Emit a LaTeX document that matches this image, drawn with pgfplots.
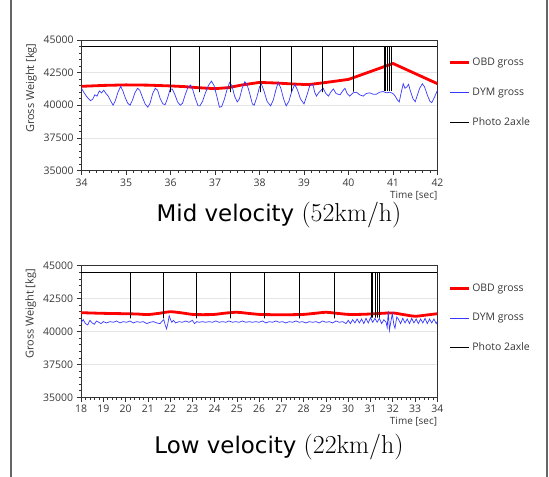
\documentclass[border=0pt]{standalone}
\usepackage{fontspec}
\setsansfont{Open Sans}
\newfontfamily\djv{DejaVu Sans}
\usepackage{pgfplots}
\pgfplotsset{compat=1.18}
\definecolor{obd}{RGB}{255,0,0}
\definecolor{dym}{RGB}{55,55,255}
\definecolor{txt}{RGB}{55,55,55}
\pgfplotsset{
  wim/.style={
    scale only axis,
    axis line style={draw=black!80, line width=0.8bp},
    ymin=35000, ymax=45000,
    ytick={35000,37500,40000,42500,45000},
    yticklabels={35000,37500,40000,42500,45000},
    scaled y ticks=false, scaled x ticks=false,
    minor y tick num=4,
    tick align=outside,
    xtick pos=left, ytick pos=left,
    major tick length=4.5bp, minor tick length=2.5bp,
    tick style={black!80, line width=0.6bp},
    ymajorgrids, major grid style={draw=black!10, line width=0.6bp},
    ticklabel style={font=\sffamily\fontsize{10.5}{12}\selectfont, text=txt},
    ylabel={Gross Weight [kg]},
    ylabel style={font=\sffamily\fontsize{11}{12}\selectfont, text=txt, at={(ticklabel cs:1)}, anchor=south east},
    xlabel={Time [sec]},
    xlabel style={font=\sffamily\fontsize{10}{12}\selectfont, text=txt, at={(rel axis cs:1,0)}, anchor=north east, inner sep=0pt, yshift=-20bp},
    legend style={draw=none, fill=none, at={(1,1)}, anchor=north west, xshift=8bp, yshift=-14bp,
      font=\sffamily\fontsize{10.5}{12}\selectfont, text=txt, row sep=16.5bp},
    legend cell align=left,
    legend image code/.code={\draw[##1] (0bp,0bp) -- (19bp,0bp);},
  }
}
\begin{document}
\begin{tikzpicture}
\useasboundingbox (0,0) rectangle (549bp,477bp);
\draw[black!60, line width=1.3bp] (11bp,0) -- (11bp,477bp);
\draw[black!60, line width=1.3bp] (547bp,0) -- (547bp,477bp);
% ---------- top chart ----------
\begin{axis}[wim, at={(81.5bp,306.5bp)}, anchor=south west, width=356bp, height=130.5bp,
  xmin=34, xmax=42, xtick={34,...,42}, xticklabels={34,35,36,37,38,39,40,41,42}, minor x tick num=5]
\addplot[obd, line width=2.8bp] coordinates {
(34,41450)(34.5,41520)(35,41560)(35.5,41540)(36,41480)(36.3,41430)(36.6,41350)(37,41270)(37.3,41350)(37.6,41550)(38,41750)(38.4,41700)(38.8,41620)(39.1,41580)(39.5,41750)(40.0,41980)(41.0,43200)(42.0,41650)};
\addlegendentry{OBD gross}
\addplot[dym, line width=0.7bp] table {
34.00 41300
34.05 41000
34.12 40650
34.20 40350
34.25 40450
34.30 40800
34.35 40700
34.40 41100
34.45 40950
34.50 41150
34.55 40900
34.60 40700
34.66 40300
34.71 40000
34.76 40350
34.82 41000
34.88 41450
34.93 41100
34.98 40600
35.04 40150
35.09 40000
35.14 40350
35.20 40950
35.26 41300
35.31 41150
35.37 40600
35.43 40100
35.49 39850
35.54 40150
35.60 40900
35.66 41300
35.71 41150
35.77 40500
35.83 40100
35.88 40050
35.93 40500
35.99 41200
36.04 41250
36.10 40800
36.16 40250
36.22 40000
36.27 40150
36.33 40800
36.39 41350
36.45 41550
36.50 41200
36.56 40500
36.62 39950
36.66 39950
36.72 40300
36.78 40900
36.85 41500
36.92 41850
36.98 41500
37.04 40700
37.10 39850
37.15 39900
37.21 40450
37.27 41200
37.33 41750
37.38 41500
37.44 40700
37.50 40250
37.55 40500
37.61 41300
37.67 41800
37.72 41600
37.78 40900
37.84 40100
37.88 40000
37.94 40600
38.00 41400
38.04 41650
38.10 41100
38.17 40300
38.25 39950
38.31 40400
38.37 41200
38.42 41750
38.48 41300
38.54 40500
38.60 39950
38.66 40300
38.72 41000
38.79 41600
38.85 41200
38.92 40500
39.00 40100
39.06 40700
39.13 41500
39.20 41600
39.24 41000
39.28 40700
39.34 41000
39.43 41300
39.49 40900
39.55 40700
39.60 41000
39.66 41250
39.72 40900
39.81 40800
39.87 41100
39.92 41300
39.97 40900
40.03 40700
40.10 40950
40.18 41000
40.25 40800
40.33 40700
40.40 40900
40.48 40950
40.55 40850
40.63 40850
40.70 41000
40.78 41050
40.85 40950
40.93 41000
41.00 40900
41.05 40700
41.10 40400
41.14 40250
41.18 40900
41.23 41650
41.27 41300
41.31 41400
41.35 41600
41.39 41100
41.45 40500
41.50 40270
41.54 40700
41.60 41300
41.66 41650
41.71 41400
41.77 40800
41.83 40300
41.87 40200
41.93 40600
42.00 41150
};
\addlegendentry{DYM gross}
\addplot[black, line width=0.8bp] coordinates {
(34,44500)
(36.00,44500)(36.00,41000)(36.00,44500)
(36.66,44500)(36.66,41000)(36.66,44500)
(37.34,44500)(37.34,41000)(37.34,44500)
(38.03,44500)(38.03,41000)(38.03,44500)
(38.72,44500)(38.72,41050)(38.72,44500)
(39.41,44500)(39.41,41000)(39.41,44500)
(40.11,44500)(40.11,41050)(40.11,44500)
(40.80,44500)(40.80,41100)(40.80,44500)
(40.84,44500)(40.84,41100)(40.84,44500)
(40.88,44500)(40.88,41100)(40.88,44500)
(40.92,44500)(40.92,41100)(40.92,44500)
(40.96,44500)(40.96,41100)(40.96,44500)
(42,44500)};
\addlegendentry{Photo 2axle}
\end{axis}
% ---------- bottom chart ----------
\begin{axis}[wim, at={(81bp,79.7bp)}, anchor=south west, width=356.3bp, height=131.6bp,
  xmin=18, xmax=34, xtick={18,...,34}, xticklabels={18,19,20,21,22,23,24,25,26,27,28,29,30,31,32,33,34}, minor x tick num=4]
\addplot[obd, line width=2.8bp, smooth] coordinates {
(18,41430)(19,41380)(20,41350)(20.5,41330)(21,41290)(21.5,41380)(22,41500)(22.5,41420)(23,41300)(23.5,41280)(24,41300)(24.5,41400)(25,41460)(25.5,41380)(26,41300)(26.5,41280)(27,41270)(27.5,41280)(28,41300)(28.5,41380)(29,41460)(29.5,41380)(30,41300)(30.5,41300)(31,41330)(31.5,41380)(32,41410)(32.5,41280)(33,41160)(33.5,41250)(34,41350)};
\addlegendentry{OBD gross}
\addplot[dym, line width=0.7bp] table {
18.00 40650
18.10 40900
18.20 40600
18.30 40500
18.40 40850
18.50 40650
18.60 40550
18.70 40800
18.80 40700
18.90 40600
19.00 40750
19.15 40650
19.30 40750
19.45 40700
19.60 40800
19.75 40650
19.90 40750
20.05 40700
20.20 40800
20.35 40650
20.50 40750
20.65 40700
20.80 40750
20.95 40600
21.10 40700
21.25 40750
21.40 40650
21.55 40600
21.65 40800
21.72 40900
21.78 40500
21.84 40200
21.90 40600
21.96 41200
22.02 40900
22.08 40700
22.15 40850
22.25 40650
22.40 40750
22.55 40700
22.70 40800
22.85 40700
23.00 40850
23.10 40600
23.20 40750
23.30 40700
23.45 40750
23.60 40700
23.75 40750
23.90 40700
24.05 40800
24.20 40700
24.35 40750
24.50 40700
24.65 40800
24.80 40700
24.95 40750
25.10 40700
25.25 40800
25.40 40700
25.55 40750
25.70 40700
25.85 40750
26.00 40700
26.15 40800
26.30 40650
26.45 40750
26.60 40700
26.75 40800
26.90 40700
27.05 40750
27.20 40650
27.35 40750
27.50 40700
27.65 40800
27.80 40700
27.95 40750
28.10 40650
28.25 40750
28.40 40700
28.55 40750
28.70 40650
28.85 40800
29.00 40700
29.15 40750
29.30 40650
29.45 40800
29.60 40700
29.75 40750
29.90 40600
30.00 40850
30.10 40600
30.20 40900
30.30 40650
30.40 40950
30.50 40650
30.60 40950
30.70 40600
30.80 41000
30.90 40650
31.00 41050
31.10 40700
31.20 41000
31.30 40700
31.40 41000
31.50 40600
31.60 40900
31.70 40700
31.75 40300
31.80 41550
31.85 40100
31.92 40800
31.98 41350
32.05 40500
32.10 40250
32.18 41100
32.25 40950
32.35 40600
32.45 41000
32.55 40650
32.65 40950
32.75 40600
32.85 41000
32.95 40650
33.05 40950
33.15 40600
33.25 40950
33.35 40650
33.45 41000
33.55 40600
33.65 40950
33.75 40650
33.85 40950
33.95 40600
34.00 40750
};
\addlegendentry{DYM gross}
\addplot[black, line width=0.8bp] coordinates {
(18,44500)
(20.21,44500)(20.21,41000)(20.21,44500)
(21.68,44500)(21.68,41000)(21.68,44500)
(23.17,44500)(23.17,41000)(23.17,44500)
(24.69,44500)(24.69,41000)(24.69,44500)
(26.22,44500)(26.22,41000)(26.22,44500)
(27.79,44500)(27.79,41000)(27.79,44500)
(29.37,44500)(29.37,41000)(29.37,44500)
(31.02,44500)(31.02,41050)(31.02,44500)
(31.10,44500)(31.10,41050)(31.10,44500)
(31.20,44500)(31.20,41050)(31.20,44500)
(31.30,44500)(31.30,41050)(31.30,44500)
(31.38,44500)(31.38,41050)(31.38,44500)
(34,44500)};
\addlegendentry{Photo 2axle}
\end{axis}
% ---------- titles ----------
\node[anchor=base] at (279bp,255.5bp) {{\djv\fontsize{23}{26}\selectfont Mid velocity }{\rmfamily\fontsize{26}{28}\selectfont(52km/h)}};
\node[anchor=base] at (279bp,24bp) {{\djv\fontsize{23}{26}\selectfont Low velocity }{\rmfamily\fontsize{26}{28}\selectfont(22km/h)}};
\end{tikzpicture}
\end{document}
